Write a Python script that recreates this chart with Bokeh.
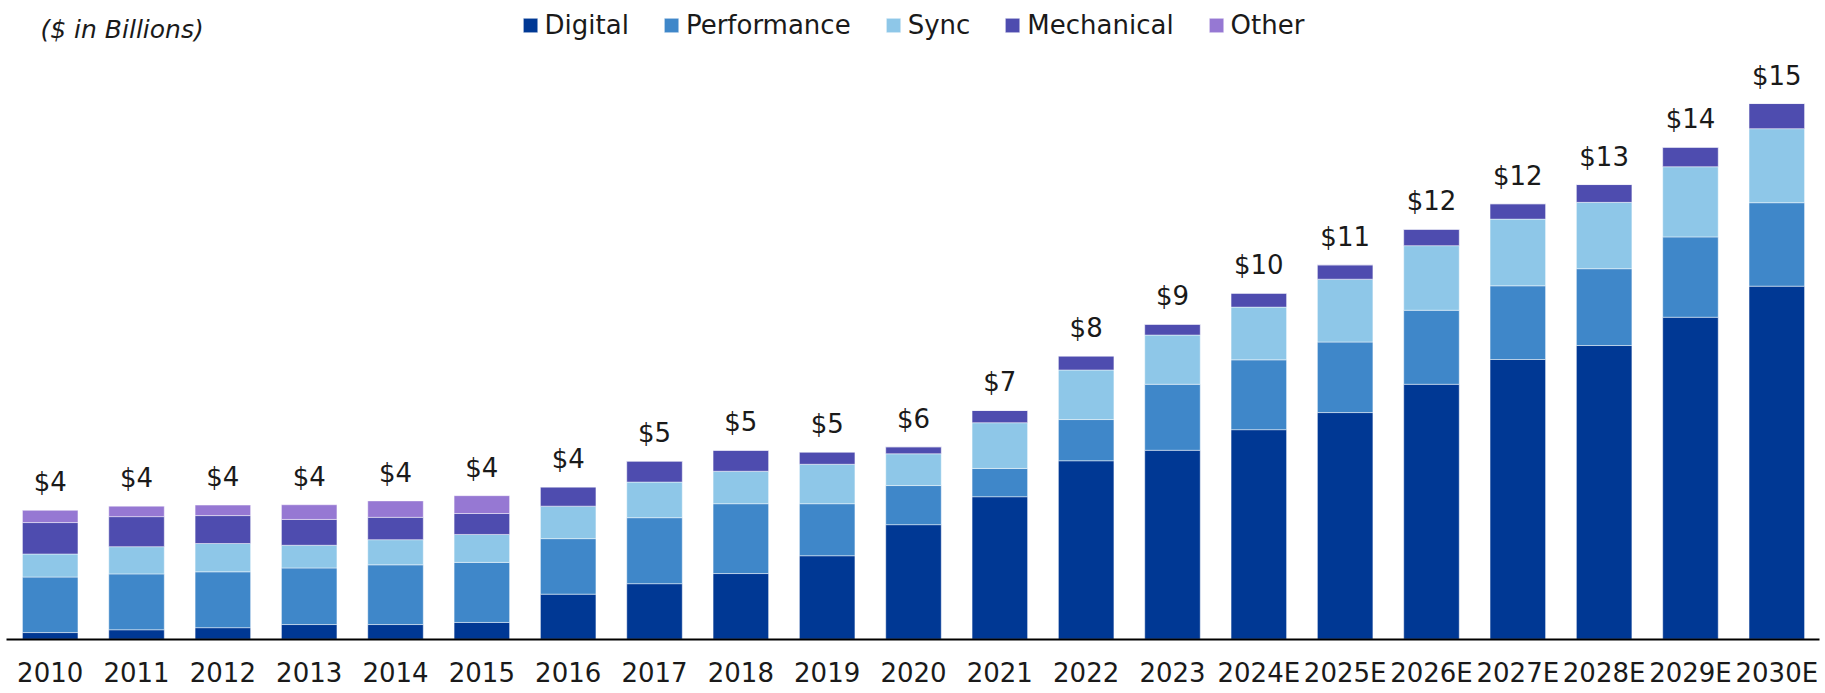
from bokeh.plotting import figure
from bokeh.models import ColumnDataSource, Range1d, FixedTicker, Label
from bokeh.embed import file_html
from bokeh.resources import INLINE

categories = ["2010", "2011", "2012", "2013", "2014", "2015", "2016", "2017", "2018", "2019",
              "2020", "2021", "2022", "2023", "2024E", "2025E", "2026E", "2027E", "2028E",
              "2029E", "2030E"]
digital = [0.19, 0.27, 0.33, 0.42, 0.42, 0.48, 1.29, 1.59, 1.88, 2.39, 3.28, 4.08, 5.11, 5.41,
           6.00, 6.49, 7.30, 8.01, 8.41, 9.22, 10.11]
performance = [1.59, 1.60, 1.60, 1.62, 1.71, 1.72, 1.59, 1.89, 2.00, 1.49, 1.12, 0.81, 1.18, 1.89,
               2.00, 2.02, 2.12, 2.11, 2.20, 2.30, 2.39]
sync = [0.66, 0.78, 0.81, 0.65, 0.72, 0.80, 0.93, 1.02, 0.93, 1.13, 0.91, 1.31, 1.42, 1.41,
        1.51, 1.80, 1.85, 1.91, 1.90, 2.01, 2.12]
mechanical = [0.90, 0.86, 0.80, 0.74, 0.64, 0.60, 0.55, 0.60, 0.60, 0.35, 0.20, 0.35, 0.40, 0.31,
              0.40, 0.41, 0.47, 0.44, 0.51, 0.56, 0.72]
other = [0.35, 0.30, 0.30, 0.42, 0.47, 0.51, 0, 0, 0, 0, 0, 0, 0, 0, 0, 0, 0, 0, 0, 0, 0]
total_labels = ["$4", "$4", "$4", "$4", "$4", "$4", "$4", "$5", "$5", "$5", "$6", "$7", "$8", "$9",
                "$10", "$11", "$12", "$12", "$13", "$14", "$15"]

series_names = ["Digital", "Performance", "Sync", "Mechanical", "Other"]
colors = ["#003894", "#3F87C9", "#8EC7E8", "#4E4CAF", "#9678D3"]

FONT = "DejaVu Sans"
TXT = "#1a1a1a"

idx = list(range(len(categories)))
totals = [d + p_ + s + m + o for d, p_, s, m, o in zip(digital, performance, sync, mechanical, other)]

source = ColumnDataSource(dict(x=idx, Digital=digital, Performance=performance, Sync=sync,
                               Mechanical=mechanical, Other=other, total=totals, label=total_labels))

W, H = 1825, 693
PX_PER_B = 34.92      # pixels per $B
BASE_Y = 638.7        # baseline position from top, px
BAND = 86.33          # category spacing, px
FIRST_X = 49.7        # first bar centre, px

x0 = -FIRST_X / BAND
x1 = x0 + W / BAND
y1 = BASE_Y / PX_PER_B
y0 = -(H - BASE_Y) / PX_PER_B

p = figure(width=W, height=H, output_backend="svg", toolbar_location=None,
           x_range=Range1d(x0, x1), y_range=Range1d(y0, y1),
           y_axis_location=None, min_border_left=0, min_border_right=0,
           min_border_top=0, min_border_bottom=0)
p.outline_line_color = None
p.grid.visible = False
p.background_fill_color = "white"
p.border_fill_color = "white"

p.vbar_stack(series_names, x="x", width=0.643, color=colors, source=source,
             line_color="white", line_width=1, line_alpha=0.45,
             legend_label=series_names)

p.text(x="x", y="total", text="label", source=source, text_align="center",
       text_baseline="alphabetic", y_offset=-28, text_font_size="26px",
       text_color=TXT, text_font={"value": FONT})

ax = p.xaxis[0]
ax.fixed_location = 0
ax.bounds = (-0.5 - 0.005, len(categories) - 0.5 - 0.01)
ax.ticker = FixedTicker(ticks=idx)
ax.major_label_overrides = {i: c for i, c in zip(idx, categories)}
ax.major_label_text_font = FONT
ax.major_label_text_font_size = "26px"
ax.major_label_text_color = TXT
ax.major_label_standoff = 19
ax.major_tick_out = 0
ax.major_tick_in = 0
ax.major_tick_line_color = None
ax.minor_tick_line_color = None
ax.axis_line_color = "black"
ax.axis_line_width = 2

title = Label(x=40, y=(BASE_Y - 29) / PX_PER_B, x_units="screen", y_units="data",
              text="($ in Billions)", text_font=FONT, text_font_style="italic",
              text_font_size="25px", text_color=TXT, text_baseline="middle")
p.add_layout(title)

lg = p.legend[0]
lg.orientation = "horizontal"
lg.location = "top_center"
lg.margin = 10
lg.padding = 0
lg.spacing = 33
lg.glyph_width = 18
lg.glyph_height = 18
lg.label_standoff = 6
lg.label_text_font = FONT
lg.label_text_font_size = "26px"
lg.label_text_color = TXT
lg.border_line_alpha = 0
lg.background_fill_alpha = 0

open("out.html", "w").write(file_html(p, INLINE))
